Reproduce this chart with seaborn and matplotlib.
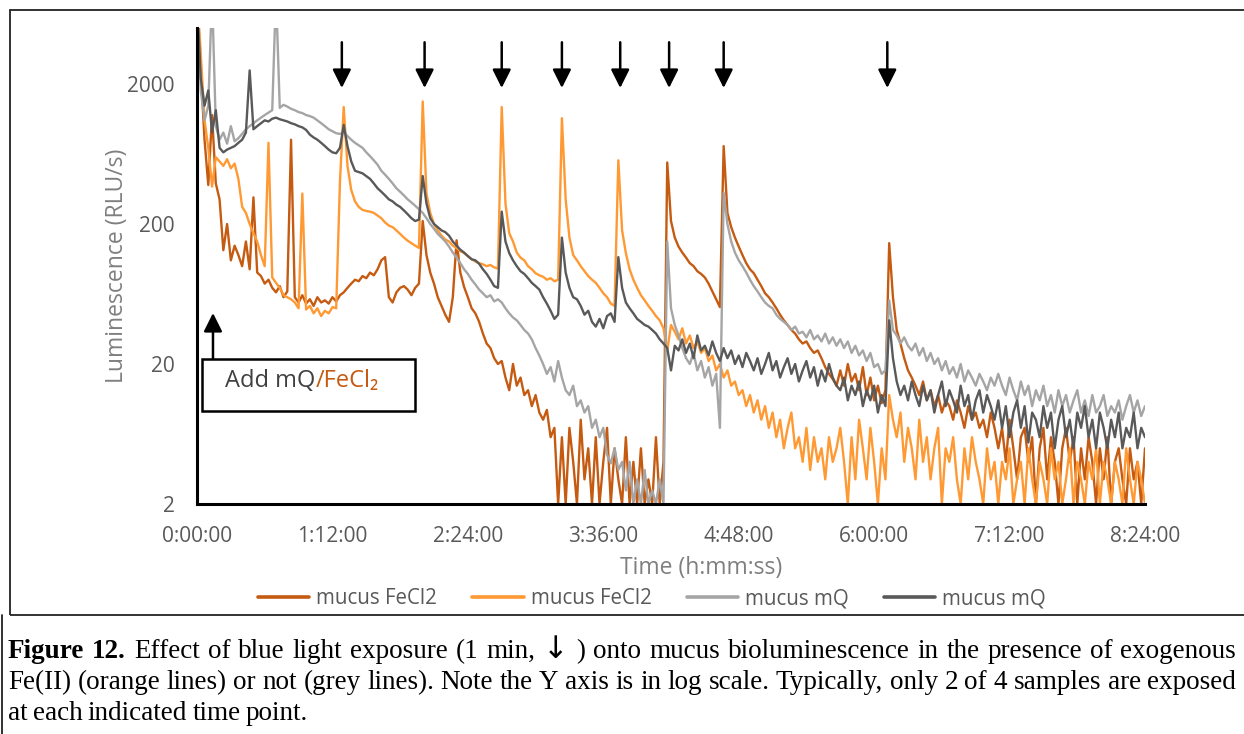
import numpy as np
import pandas as pd
import matplotlib
matplotlib.use("Agg")
import matplotlib.pyplot as plt
import seaborn as sns
from matplotlib.patches import Rectangle
from matplotlib.lines import Line2D

# plate reader read every 2 min, 0 .. 504 min (8:24:00)
t_min = np.arange(0, 505, 2)

# mucus + FeCl2, sample 1 (dark orange)
fe_dark = [
    9000, 2500, 800, 380, 1200, 390, 300, 130, 200, 110,
    140, 120, 100, 150, 95, 310, 90, 85, 75, 80,
    70, 65, 72, 60, 66, 800, 60, 55, 62, 54,
    58, 52, 60, 55, 57, 54, 60, 56, 62, 65,
    70, 75, 80, 78, 85, 82, 90, 86, 95, 110,
    116, 60, 55, 65, 70, 72, 68, 62, 70, 75,
    210, 120, 90, 75, 60, 52, 45, 40, 60, 153,
    90, 71, 60, 50, 46, 40, 33, 28, 26, 22,
    20, 21, 16, 13, 20, 14, 16, 12, 13, 10,
    12, 9, 8, 9.4, 6, 7, 2, 6, 2, 7,
    4, 2, 8, 3, 5, 2, 6, 2, 4, 7,
    2, 5, 3, 2, 6, 2, 4, 2, 5, 2,
    3, 2, 6, 2, 4, 550, 210, 160, 138, 125,
    115, 105, 100, 92, 88, 83, 75, 66, 58, 51,
    720, 240, 190, 160, 138, 120, 105, 95, 89, 80,
    72, 64, 60, 55, 50, 45, 41, 38, 35, 33,
    30, 28, 29, 26, 24, 25, 22, 19, 17, 15.6,
    14, 18, 14, 20, 15, 17, 13, 19, 12, 16,
    11, 14, 10.5, 13, 146, 60, 35, 28, 22, 18,
    16, 14, 12, 15, 11, 13, 10, 12, 9, 11,
    10, 8, 11, 9, 7, 10, 8, 9, 7, 8,
    6, 9, 7, 5, 7, 4, 8, 5, 3, 6,
    7, 4, 6, 2, 5, 7, 3, 6, 4, 2,
    5, 7, 4, 6, 2, 5, 3, 6, 4, 2,
    5, 3, 6, 2, 4, 5, 3, 2, 5, 3,
    4, 2, 5,
]

# mucus + FeCl2, sample 2 (light orange)
fe_light = [
    9000, 3300, 1100, 700, 370, 600, 560, 520, 580, 500,
    540, 420, 265, 240, 200, 172, 150, 120, 100, 760,
    83, 76, 70, 62, 60, 58, 55, 50, 330, 49,
    52, 46, 50, 44, 48, 46, 51, 50, 400, 1370,
    520, 350, 290, 265, 252, 248, 245, 240, 230, 220,
    205, 195, 190, 180, 170, 160, 152, 146, 140, 135,
    1500, 330, 240, 200, 180, 165, 155, 150, 140, 135,
    128, 124, 118, 112, 108, 105, 103, 100, 102, 98,
    96, 1370, 280, 172, 150, 125, 115, 110, 100, 95,
    89, 86, 84, 80, 82, 78, 80, 1140, 300, 160,
    120, 110, 100, 92, 85, 80, 76, 70, 64, 60,
    54, 52, 570, 180, 124, 95, 80, 70, 62, 57,
    52, 48, 44, 41, 36, 25, 38, 34, 30, 36,
    28, 32, 26, 29, 24, 26, 21, 23, 18, 20,
    16, 18, 14, 15, 12, 13, 10, 12, 9, 11,
    8, 10, 7, 9, 6, 8, 5, 7, 9, 5,
    6, 4, 7, 3.5, 6, 4, 5, 3, 6, 4,
    5, 7, 4, 2, 6, 3, 8, 5, 3, 7,
    4, 2, 5, 3, 12, 8, 6, 9, 4, 7,
    5, 3, 8, 4, 6, 3, 5, 7, 2, 5,
    4, 6, 3, 2, 5, 3, 6, 4, 3, 2,
    5, 3, 4, 2, 4, 3, 5, 2, 3, 4,
    2, 5, 3, 2, 4, 3, 2, 5, 3, 4,
    2, 3, 5, 2, 4, 3, 2, 4, 3, 5,
    2, 4, 3, 2, 4, 3, 2, 5, 3, 2,
    4, 3, 2,
]

# mucus + mQ water, sample 1 (light grey)
mq_light = [
    9000, 1800, 1100, 1400, 9000, 1000, 800, 900, 750, 1000,
    780, 820, 880, 950, 1000, 1050, 1100, 1150, 1200, 1250,
    1300, 9000, 1350, 1420, 1380, 1330, 1300, 1260, 1240, 1200,
    1180, 1150, 1100, 1050, 1000, 950, 920, 890, 880, 900,
    850, 800, 760, 730, 700, 650, 610, 570, 530, 480,
    450, 420, 390, 360, 340, 320, 300, 285, 270, 255,
    240, 220, 200, 185, 170, 160, 150, 138, 125, 115,
    105, 95, 88, 80, 74, 68, 64, 60, 62, 56,
    58, 55, 50, 46, 43, 41, 38, 35, 33, 30,
    26, 23, 20, 17, 19, 15, 21, 16, 13, 12,
    14, 10, 11, 9, 10, 7, 8, 6, 7, 4.5,
    3.9, 5, 3.5, 4, 2.5, 4, 2, 3, 2, 3.5,
    2, 2.5, 2, 3, 2, 150, 50, 38, 32, 26,
    22, 20, 24, 18, 21, 16, 19, 14, 17, 7,
    333, 200, 150, 125, 110, 100, 90, 80, 72, 66,
    60, 55, 52, 50, 45, 42, 40, 38, 35, 37,
    33, 34, 31, 35, 30, 32, 29, 33, 28, 31,
    27, 30, 26, 29, 24, 27, 23, 25, 21, 24,
    19, 20, 17, 18, 57, 35, 32, 28, 31, 27,
    25, 28, 23, 26, 21, 24, 20, 22, 18, 21,
    17, 19, 16, 20, 15, 18, 16, 14, 17, 15,
    13, 16, 14, 17, 14, 12, 16, 13, 11, 15,
    12, 14, 10, 13, 11, 14, 10, 12, 9, 13,
    10, 12, 9, 11, 13, 9, 11, 8.5, 12, 9,
    10, 12, 8.5, 10, 9, 11, 8, 10, 12, 9,
    11, 8.5, 10,
]

# mucus + mQ water, sample 2 (dark grey)
mq_dark = [
    8000, 2200, 1400, 1800, 900, 1300, 700, 650, 680, 700,
    720, 760, 800, 900, 2500, 950, 1000, 1050, 1100, 1080,
    1130, 1150, 1120, 1100, 1080, 1050, 1030, 1000, 980, 940,
    870, 830, 800, 760, 720, 680, 650, 640, 700, 1020,
    720, 560, 480, 470, 460, 440, 420, 390, 360, 340,
    320, 300, 290, 275, 265, 250, 235, 220, 210, 215,
    440, 280, 220, 200, 190, 180, 175, 165, 150, 140,
    131, 125, 118, 112, 110, 104, 95, 88, 80, 72,
    70, 245, 150, 124, 110, 100, 92, 88, 82, 76,
    72, 68, 60, 54, 48, 42, 45, 160, 90, 70,
    60, 58, 52, 45, 48, 40, 37, 42, 36, 44,
    46, 40, 116, 70, 55, 50, 46, 42, 40, 38,
    37, 35, 33, 30, 28, 26, 18, 27, 25, 30,
    24, 28, 22, 32, 25, 27, 23, 29, 24, 21,
    26, 22, 25, 20, 23, 19, 24, 21, 18, 22,
    17, 20, 24, 18, 21, 16, 19, 22, 17, 20,
    15, 18, 21, 16, 19, 14, 18, 15, 20, 16,
    14, 13, 16, 11, 14, 12, 15, 10, 13, 11,
    14, 9, 12, 10, 41, 22, 15, 12, 14, 11,
    15, 12, 10, 14, 11, 13, 9, 12, 15, 10,
    13, 11, 9, 14, 10, 12, 8, 11, 13, 9,
    12, 10, 8, 11, 7, 10, 6, 9, 11, 7,
    10, 5.5, 9, 8, 6, 10, 7, 9, 5, 8,
    10, 6, 8, 5, 9, 7, 10, 6, 8, 5,
    9, 7, 5, 8, 6, 9, 5, 7, 6, 9,
    5, 7, 6,
]

series_labels = ["mucus FeCl2", "mucus FeCl2", "mucus mQ", "mucus mQ"]
series_colors = ["#C55A11", "#FF9933", "#A5A5A5", "#595959"]

# blue light exposures (min)
exposure_min = [77, 121, 162, 194, 225, 251, 280, 367]
add_min = 8.5

xtick_min = [0, 72, 144, 216, 288, 360, 432, 504]
xtick_labels = ["0:00:00", "1:12:00", "2:24:00", "3:36:00", "4:48:00",
                "6:00:00", "7:12:00", "8:24:00"]
ytick_vals = [2, 20, 200, 2000]
ytick_labels = ["2", "20", "200", "2000"]

sns.set_style("white")
plt.rcParams["font.family"] = ["Open Sans", "DejaVu Sans"]

W, H = 1244, 734
fig = plt.figure(figsize=(W / 100, H / 100), dpi=100)
ax = fig.add_axes([197 / W, 1 - 504 / H, 948 / W, 476 / H])

for vals, lab, col in zip([fe_dark, fe_light, mq_light, mq_dark], series_labels, series_colors):
    sns.lineplot(x=t_min, y=vals, color=col, label=lab, lw=1.7, ax=ax)

ax.set_yscale("log")
ax.set_ylim(2, 5024)
ax.set_xlim(0, 504)
ax.set_yticks(ytick_vals)
ax.set_yticklabels(ytick_labels)
ax.yaxis.set_minor_locator(matplotlib.ticker.NullLocator())
ax.set_xticks(xtick_min)
ax.set_xticklabels(xtick_labels)
ax.tick_params(axis="both", length=0, labelsize=15, labelcolor="#595959")
ax.tick_params(axis="x", pad=16)
ax.tick_params(axis="y", pad=16)
for s in ["top", "right"]:
    ax.spines[s].set_visible(False)
for s in ["left", "bottom"]:
    ax.spines[s].set_color("black")
    ax.spines[s].set_linewidth(2.2)
ax.set_xlabel("")
ax.set_ylabel("")

fig.text(701 / W, 1 - 568 / H, "Time (h:mm:ss)", ha="center", va="center",
         fontsize=16.5, color="#7F7F7F")
fig.text(117 / W, 1 - 266 / H, "Luminescence (RLU/s)", ha="center", va="center",
         rotation=90, fontsize=16.5, color="#7F7F7F")

# exposure arrows
for t in exposure_min:
    ax.annotate("", xy=(t, 0.874), xycoords=("data", "axes fraction"),
                xytext=(t, 0.97), textcoords=("data", "axes fraction"),
                arrowprops=dict(arrowstyle="-|>", color="black", lw=1.8,
                                mutation_scale=28, shrinkA=0, shrinkB=0))

# "Add mQ/FeCl2" box and arrow
fig.add_artist(Rectangle((202 / W, 1 - 411 / H), 213 / W, 52 / H, transform=fig.transFigure,
                         fill=False, ec="black", lw=1.8))
ax.annotate("", xy=(add_min, (504 - 313) / 476), xycoords=("data", "axes fraction"),
            xytext=(add_min, (504 - 359) / 476), textcoords=("data", "axes fraction"),
            arrowprops=dict(arrowstyle="-|>", color="black", lw=1.8,
                            mutation_scale=28, shrinkA=0, shrinkB=0))
t1 = fig.text(225 / W, 1 - 387 / H, "Add mQ", ha="left", va="baseline",
              fontsize=17, color="#404040")
ax.annotate("/FeCl₂", xy=(1, 0), xycoords=t1, ha="left", va="bottom",
            fontsize=17, color="#C55A11")

# legend
leg = ax.legend(loc="center", bbox_to_anchor=(652 / W, 1 - 599 / H), bbox_transform=fig.transFigure,
                ncol=4, frameon=False, fontsize=14.8, handlelength=2.5, handletextpad=0.35,
                columnspacing=1.7, labelcolor="#595959")
for ln in leg.get_lines():
    ln.set_linewidth(2.6)

# frames
fig.add_artist(Rectangle((10 / W, 1 - 615 / H), 1.0, 605 / H, transform=fig.transFigure,
                         fill=False, ec="#222222", lw=1.3))
fig.add_artist(Line2D([1.5 / W, 1.5 / W], [0, 1 - 615 / H], transform=fig.transFigure,
                      color="#222222", lw=1.3))

# caption, justified like the original
renderer = fig.canvas.get_renderer()


def place_line(words, base_y, x0, x1, justify=True):
    objs = []
    for w, style in words:
        fam = ["DejaVu Sans"] if style == "arrow" else ["Liberation Serif"]
        objs.append(fig.text(0, 1 - base_y / H, w, ha="left", va="baseline",
                             fontsize=22 if style == "arrow" else 19.5, family=fam,
                             weight="bold" if style == "bold" else "normal", color="black"))
    widths = [o.get_window_extent(renderer).width for o in objs]
    gap = (x1 - x0 - sum(widths)) / (len(objs) - 1) if justify else 5.2
    x = x0
    for o, wd in zip(objs, widths):
        o.set_x(x / W)
        x += wd + gap


line1 = [("Figure", "bold"), ("12.", "bold")] + \
        [(w, "arrow" if w == "↓" else "normal") for w in
         "Effect of blue light exposure (1 min, ↓ ) onto mucus bioluminescence in the presence of exogenous".split()]
line2 = [(w, "normal") for w in
         "Fe(II) (orange lines) or not (grey lines). Note the Y axis is in log scale. Typically, only 2 of 4 samples are exposed".split()]
line3 = [(w, "normal") for w in "at each indicated time point.".split()]
place_line(line1, 658, 8, 1236)
place_line(line2, 689, 8, 1236)
place_line(line3, 720, 8, 1236, justify=False)

fig.savefig("out.png", dpi=100)
